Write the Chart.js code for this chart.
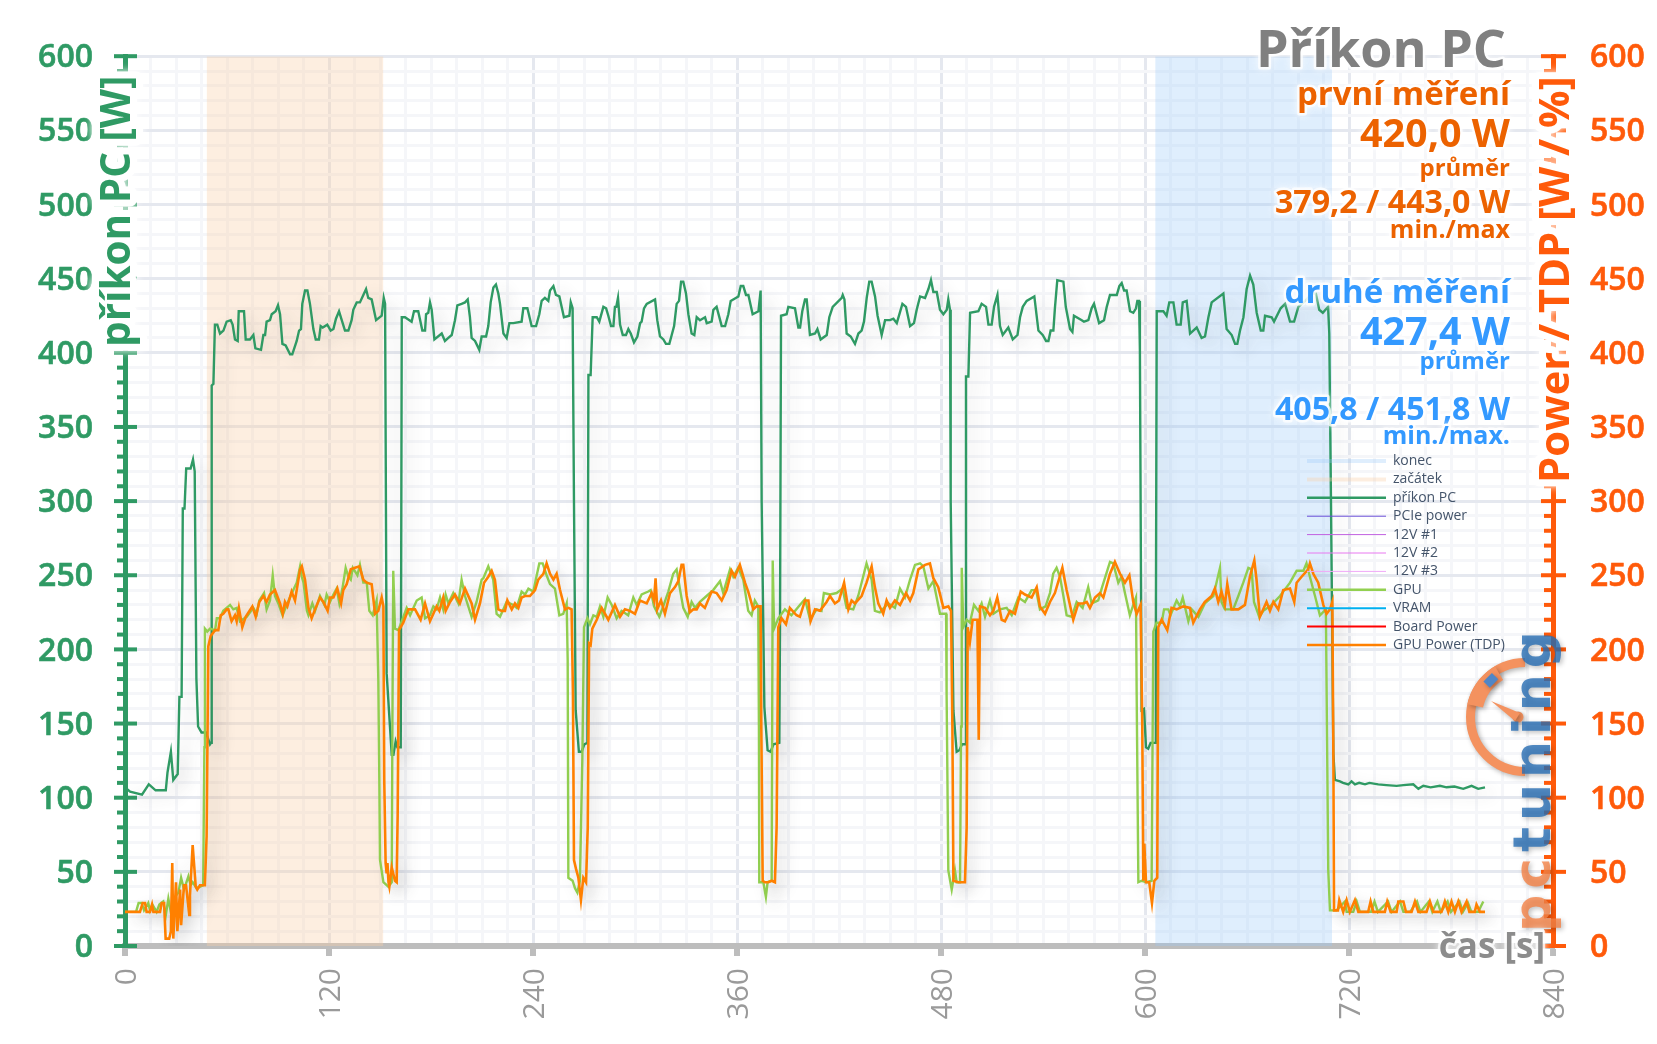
<!DOCTYPE html>
<html>
<head>
<meta charset="utf-8">
<title>Příkon PC</title>
<script src="https://cdn.jsdelivr.net/npm/chart.js@4"></script>
<style>
  html, body { margin: 0; padding: 0; background: #fff; }
  canvas { display: block; }
</style>
</head>
<body>
<canvas id="chart" width="1657" height="1044"></canvas>
<script>
// [time s, watts]
const pcPower = [
  [0,107],[3,104],[10,102],[14,109],[18,105],[24,105],[25,117],[27,131],[28.4,112],[31,116],[32,168],[33.3,168],[34,295],[35,295],[36,322],[38.6,322],[40,328],[41,320],[42,180],[43,148],[45,144],[47.6,144],[50,136],[50.6,137],[51,378],[52,379],
  [52.9,419],[54.3,419],[55.9,413],[57.9,415],[59.8,421],[62.2,422],[63.3,419],[64.7,409],[66.3,408],[66.9,428],[70,428],[71,409],[73.5,409],[75.5,412],[76.7,403],[80,402],[81.4,412],[82.4,412],[83.3,421],[85.3,422],[86.3,426],[88.6,428],[90,432],[91.2,426],[92.6,406],[94.5,405],[97.1,399],[98.4,399],[101,408],[102.4,415],[103.5,416],[104.3,433],[105.9,442],[107.3,442],[108.8,433],[110.8,416],[112.2,409],[114.1,409],[115.1,418],[116.3,417],[119,419],[121,415],[122.6,416],[124.1,423],[125.9,428],[127.5,422],[129.4,415],[131.4,415],[133.3,422],[134.3,429],[136.3,434],[138.2,434],[140.2,439],[141.8,443],[143.1,437],[145.1,436],[147.7,422],[151,425],[152.2,437],[153,433],[153.9,184],[156.9,129],[157.9,129],[159.2,138],[160.2,134],[162.2,134],
  [162.8,424],[164.7,424],[168.6,421],[170,428],[172.5,428],[174.9,415],[176.5,415],[177.1,426],[178.4,427],[179.4,434],[180.4,429],[182,409],[186.3,413],[188.2,408],[190.2,410],[192.2,412],[194.1,422],[195.5,432],[198,433],[200,434],[201.6,436],[202.9,424],[203.9,410],[205.9,408],[208.4,402],[209.8,411],[212.4,411],[213.7,418],[215.1,434],[216.7,444],[218.2,446],[219.6,440],[220.6,433],[222.6,413],[224.5,410],[226.1,420],[228.4,420],[233.3,421],[234.3,430],[236.7,430],[239.2,418],[241.8,418],[243.7,426],[245.1,435],[247,437],[249,435],[250,442],[252,445],[253.5,439],[255.5,438],[258.2,424],[261.4,425],[262.2,434],[263.3,430],[264.1,300],[265.1,159],[267,131],[268.6,131],[270.2,136],[272,137],
  [272.6,385],[273.9,385],[275.1,424],[277.5,424],[279,421],[281.4,431],[283,430],[284.3,425],[285.9,418],[287.3,418],[288.2,431],[289,431],[290,437],[291.2,419],[292.8,412],[294.7,412],[296.1,416],[297.5,413],[299.4,407],[301.4,411],[303,420],[303.9,421],[305.3,430],[306.9,433],[311.8,436],[313.1,422],[314.7,411],[316.7,409],[318.2,406],[320.2,406],[321.6,412],[323,418],[324.5,433],[325.9,435],[327.1,448],[328.4,448],[330,440],[331.4,426],[333.3,413],[334.9,412],[336.3,424],[338.2,422],[341.2,424],[342.2,420],[345.1,421],[346.1,429],[348,431],[351,418],[353,418],[354.9,426],[356.3,435],[360.8,438],[362.2,445],[363.7,445],[365.3,439],[366.7,439],[369.2,426],[372.6,428],[373.9,442],[374.5,300],[376.1,161],[378,132],[379.8,131],[381.4,136],[384.9,137],[385.3,215],
  [385.9,425],[389.2,426],[390.2,431],[394.1,430],[396.1,417],[397.1,417],[398.4,428],[400,436],[401,436],[402.9,412],[405.9,413],[407.3,416],[409.2,409],[412.8,412],[414.3,424],[416.3,431],[421.6,437],[422.2,439],[423.2,436],[424.5,413],[426.9,411],[429.4,406],[431.4,413],[433.3,415],[434.7,421],[436.3,437],[437.8,448],[439.2,448],[441.2,438],[442.7,425],[445.1,412],[447.1,422],[450,422],[452,423],[454,420],[457.3,433],[459.4,431],[461.8,418],[464.1,420],[465.7,429],[467.7,438],[470.6,437],[472.6,443],[474.1,449],[475.5,441],[477.5,441],[479.4,429],[481.4,426],[483.4,429],[484.3,436],[485.3,429],[485.7,300],[487.3,159],[489.2,131],[490.8,132],[492.4,136],[494.5,136],
  [494.7,384],[496.1,384],[497.1,427],[502,428],[503.9,433],[506.5,431],[507.9,419],[509.8,419],[511.2,431],[513.2,439],[514.7,418],[516.3,412],[519.6,417],[522.2,409],[525,412],[526.5,424],[528.1,431],[530.4,435],[534.9,438],[537.3,415],[539.8,412],[541.8,408],[543.2,408],[544.5,415],[546.1,415],[547,430],[548.4,449],[552,448],[553.4,431],[555.9,416],[557.3,414],[558.2,425],[562.8,422],[564.1,421],[566.7,422],[568.6,430],[570,433],[573,420],[575.9,422],[577.5,431],[579.4,439],[583.4,439],[584.9,445],[586.3,447],[587.7,442],[589.2,442],[591.2,428],[593.1,427],[594.7,430],[595.5,435],[596.5,435],[597,402],[598,159],[599.4,160],[600.6,134],[601.9,133],[603.3,137],[605.9,137],[606.4,215],
  [606.9,428],[610.8,428],[612.7,425],[614.3,434],[616.7,434],[618.6,419],[621,419],[622.2,434],[624.5,435],[626.5,413],[630.4,417],[633.3,410],[635.3,411],[637.3,424],[639.2,434],[646.1,440],[648,416],[651,412],[653,406],[654.3,406],[655.9,415],[657.9,424],[659.8,443],[661.8,452],[663.7,446],[665.7,427],[668.1,415],[669.6,415],[670.6,425],[674.5,424],[675.9,421],[679.8,430],[682.4,433],[685.3,421],[687.7,421],[690.2,431],[694.2,435],[698.4,440],[700.5,440],[702.5,429],[704.6,427],[707.7,431],[708.4,413],[709.4,300],[710.8,130],[711.7,112],
  [714.7,111],[716.5,110],[719.6,109],[721.5,111],[723.5,109],[726,110],[729.4,109],[732,110],[737.2,109],[742,108.5],[748,108],[752,108.5],[757.8,109],[760.8,106],[763.7,108],[768,107],[773.5,108],[777.4,107],[782,107.5],[787.2,106],[792.1,108],[796,106],[800,107]
];

const gpuPower = [
  [0,23],[6.5,23],[8,29],[9.8,29],[11.2,24],[13.7,29],[14.7,24],[16.1,28],[18.6,23],[20.2,28],[22.5,30],[23.9,20],[25.5,32],[27.4,20],[29.4,33],[31.4,36],[33,46],[34.7,38],[37.3,47],[38.6,41],[39.8,43],[42.2,39],[46,41],[46.7,134],[47,214],[48.4,212],[50,214],[53,213],[54,221],[55.9,221],[57.8,226],[61.8,230],[63.7,227],[65.7,228],[67.6,219],[71.6,222],[75.5,228],[77.5,224],[79,233],[81.8,238],[83.3,227],[85.3,233],[86.9,250],[88.2,236],[90.2,231],[92.7,223],[95.5,231],[99,240],[101,245],[103,256],[104,249],[105,245],[107,226],[107.9,223],[110.2,231],[111.8,226],[114.7,236],[117.3,230],[118.6,237],[120.6,232],[122.6,237],[124.5,241],[126.1,231],[127.9,241],[129.8,255],[131.4,249],[132.8,247],[134,255],[136.7,250],[138.2,257],[140.2,245],[142.2,245],[143.7,226],[145.7,223],[148,233],[149,180],[149.6,112],[150,58],[152,43],[154.9,40],[156.9,43],[157.3,150],[157.8,253],[158.8,214],[160.8,213],[162.8,219],[165.7,228],[167.7,223],[171.6,233],[174.5,235],[176.5,221],[179.4,223],[181.4,229],[183.3,227],[185.3,235],[187.2,227],[188.6,237],[190.2,231],[193.1,238],[196.1,231],[198,247],[200,236],[203.9,222],[206.8,232],[209.8,247],[210.8,248],[213.7,256],[216.6,247],[218.6,224],[220.6,222],[224.5,232],[228.4,230],[230.4,228],[233.3,239],[235.3,237],[237.3,241],[240.2,239],[242.2,250],[243.7,258],[245.7,258],[248,250],[250,244],[252.9,241],[255.5,223],[257.8,224],[259.8,231],[260.4,193],[260.8,46],[263.3,44],[264.7,39],[266.1,36],[267.6,44],[269,125],[270,215],[272,221],[273.5,217],[275.5,223],[277.5,222],[279.4,229],[281.4,222],[283.9,235],[286.3,230],[289.2,221],[292.1,226],[296,223],[299,235],[301,230],[303.9,237],[307.8,239],[309.2,240],[311.2,229],[314.3,222],[316.6,229],[319.6,239],[322.5,251],[324.5,254],[326.4,241],[328.4,228],[331,222],[333.3,232],[335.3,228],[338.2,232],[342.1,236],[346,240],[350,246],[351.9,238],[355.9,254],[357.8,249],[360.7,255],[363.7,247],[366.6,226],[368.6,223],[370.5,233],[372.5,229],[372.9,148],[373.1,43],[375.5,43],[377,33],[378,43],[380.4,44],[381,260],[381.8,214],[384.3,221],[388.2,227],[392,223],[397,230],[400,234],[403,220],[406.8,227],[409.7,226],[411.1,238],[414.7,237],[418.6,238],[422.1,241],[424.5,228],[428.4,227],[431.3,236],[434.2,249],[436.2,258],[439.2,247],[441.1,226],[444,225],[449,231],[452.9,228],[455.9,241],[458.8,235],[461.8,247],[464.7,257],[467.7,258],[469.6,256],[472.6,241],[475.5,246],[479.4,224],[483,224],[483.3,170],[484.3,51],[486.3,38],[488.2,51],[489.2,43],[491.2,43],[491.8,148],[492.2,255],[493.1,215],[495.1,220],[497,218],[499.4,230],[502,226],[503.9,231],[505.9,222],[508.8,233],[510.8,224],[514.7,227],[518.6,228],[521.6,223],[525.5,235],[529.4,232],[533.3,240],[535.9,240],[538.2,227],[541.5,229],[544.1,238],[546,251],[548,255],[550,249],[552,236],[553.9,223],[556.9,222],[559.8,232],[563.3,228],[566.6,242],[568.6,231],[572.5,233],[574.5,241],[579.4,259],[581.3,258],[584.3,245],[586.2,249],[588.2,238],[591.1,223],[593.1,230],[594.7,235],[595.1,170],[596.1,43],[598,44],[601,43],[603.9,44],[604.9,212],[606.8,218],[609.8,218],[611.2,227],[613.7,227],[615,223],[618.6,233],[620.6,229],[622.2,235],[625.5,219],[627.5,227],[631.4,222],[635.2,231],[640.2,236],[644.1,255],[645,232],[647,227],[651.9,227],[654.9,236],[657.8,245],[660.8,255],[662.7,254],[664.1,232],[667.2,222],[669.6,226],[674.5,230],[679.4,236],[685.3,245],[689.2,253],[693.2,253],[695,258],[697,249],[700,236],[702.9,223],[706.4,227],[707.8,51],[708.8,24],[712.7,24],[717.6,30],[718.6,23],[722.5,23],[724.5,30],[726.4,23],[733,23],[735,30],[737,23],[743,30],[745,23],[750,30],[752,23],[756,23],[760,30],[762,23],[767,30],[769,23],[772,30],[774,23],[778,30],[780,23],[785,30],[787,23],[790,29],[792,23],[796,23],[799,30]
];

const tdpPower = [
  [0,23],[8.8,23],[10.4,29],[11.8,29],[12.7,23],[14.7,23],[15.9,28],[16.7,23],[20.6,23],[21.6,29],[23,29],[23.9,5],[26,5],[27,10],[27.8,56],[28.4,5],[30,43],[30.8,10],[32.4,38],[33,14],[34.7,41],[35.9,41],[37.8,21],[38.2,34],[39.8,68],[41.6,40],[42.5,38],[44.1,41],[47,41],[48,74],[49,202],[50.4,209],[53,213],[54.9,213],[56.3,223],[57.8,224],[59.8,227],[60.8,227],[62.7,219],[64.7,223],[65.7,219],[67,228],[69,215],[71,222],[74.9,229],[76.9,222],[79,232],[81.4,236],[83.3,232],[85.3,237],[88.2,240],[91.2,231],[92.8,224],[94.1,232],[95.5,229],[98,239],[100,233],[103,254],[104,256],[105.9,247],[107.9,228],[109.8,221],[111.8,227],[114.7,235],[116.7,232],[119.2,226],[120.6,235],[122.6,235],[124.9,241],[127.1,231],[128.4,240],[130.4,244],[132.8,254],[135.3,255],[137.9,256],[140.2,247],[142.2,245],[145.1,244],[147.1,224],[149,226],[151,235],[152,229],[152.5,112],[153.3,56],[153.9,49],[154.4,56],[155,43],[155.5,40],[156.9,53],[158.8,44],[159.8,43],[160.4,89],[161.2,213],[163.7,218],[166.7,227],[170.6,227],[173.9,220],[176.5,231],[179.4,219],[183.3,229],[184.9,226],[187.2,235],[188.6,226],[191.2,232],[194.1,237],[197,231],[200,241],[203.9,231],[205.9,220],[208.8,231],[211.2,245],[213.7,249],[215.7,253],[217.6,247],[219.6,227],[221.6,226],[223.5,226],[224.9,233],[227.5,227],[229.4,231],[231.4,228],[233.3,235],[235.3,236],[238.2,236],[241.2,240],[243.1,247],[246.1,251],[248,258],[250,251],[252,247],[253.9,251],[255.9,240],[258.8,227],[260.8,228],[262.7,227],[263.5,170],[264.1,58],[265.3,52],[266.7,46],[268.2,31],[269.6,46],[271.2,43],[272.2,80],[273,204],[273.9,203],[274.9,214],[277.5,220],[280.4,228],[284.3,220],[288.2,230],[291.2,222],[294.1,227],[297,226],[300,224],[302.9,233],[306.9,231],[309.8,238],[311.2,233],[312.1,248],[313.1,227],[315.3,233],[317.6,224],[320.6,238],[323.5,242],[325.5,246],[327.4,257],[328.4,257],[330.4,236],[332.3,225],[334.3,227],[336.3,227],[338.2,231],[341.1,228],[345.1,239],[348,238],[351,233],[353.9,240],[356.8,253],[358.8,249],[361.7,257],[364.7,245],[366.6,239],[369.6,227],[371.5,229],[373.9,229],[374.3,148],[375.1,44],[376.4,43],[378.4,43],[380.4,44],[382.3,43],[383.3,80],[384.3,215],[386.2,221],[388.8,217],[391.1,228],[395,223],[397,222],[400,233],[402,233],[403.3,219],[405.9,227],[408.8,226],[412.7,232],[414.7,236],[417.6,231],[420,233],[423,245],[425.5,227],[427.4,233],[429.4,231],[433.3,236],[436.2,245],[439.2,256],[441.1,242],[443.1,231],[446,224],[448,233],[450,228],[452.9,233],[455.9,230],[459.4,238],[461.8,233],[463.7,238],[466.7,254],[470.6,257],[473.5,258],[475.5,248],[478.4,242],[481.4,228],[484.3,229],[485.9,226],[486.7,148],[487.3,44],[490.2,43],[494.1,43],[495.1,80],[495.7,215],[497,205],[498.6,220],[501.4,220],[502.2,139],[503,229],[505.9,228],[508.8,223],[510.8,226],[513.1,235],[515.7,220],[517.6,219],[520.6,226],[523.5,224],[526.9,239],[529.4,237],[533.3,235],[536.3,242],[538.2,229],[541.2,224],[544.1,232],[547,238],[551.4,255],[553.9,240],[557.8,220],[560.8,231],[563.7,231],[565.7,232],[567.6,228],[570.6,235],[573.5,238],[575.5,235],[579.4,251],[582.3,259],[585.3,251],[588.2,245],[590.8,250],[593.1,232],[595.1,224],[597.4,230],[598.4,148],[599,44],[599.6,69],[600.6,43],[602.5,43],[604.1,29],[605.5,44],[607.2,46],[607.8,215],[609.8,220],[613.1,213],[615.6,228],[618.6,227],[622.5,229],[626.4,228],[628.4,218],[632.3,227],[635.2,232],[639.2,236],[641.1,241],[643.1,232],[645,239],[647,230],[648.4,244],[650.9,227],[654.9,227],[658.8,230],[661.7,249],[664.3,260],[665.6,247],[667.6,222],[671.5,232],[673.5,226],[675.5,232],[678.4,227],[681.3,240],[685.3,241],[687.8,232],[689.2,245],[692.1,249],[696,254],[697,258],[699,251],[701.9,245],[704.9,230],[706.8,224],[708.8,227],[710.2,232],[710.8,130],[711.2,24],[713.5,24],[714.3,31],[716.6,23],[718.6,31],[720.5,23],[723.5,31],[725.5,23],[731.3,23],[732.7,30],[734.3,23],[741.1,23],[742.5,30],[744.5,23],[748,23],[749,30],[752,30],[753.5,23],[756.8,23],[758.8,30],[760.8,23],[765.6,23],[767.6,30],[769.6,23],[774.4,23],[776.4,30],[778.4,23],[780.3,30],[782.3,23],[784.3,30],[786.2,23],[789.2,30],[790.8,23],[794,23],[795,28],[797,23],[800,23]
];

// shaded measurement windows
const startWindow = [[48,600],[152,600]];
const endWindow = [[606,600],[710,600]];

const toPoints = rows => rows.map(r => ({ x: r[0], y: r[1] }));

const GREEN = '#2f9a64';
const ORANGE = '#ff5a0a';
const GRAY = '#808080';
const FONT = '"Open Sans", sans-serif';

function line(label, rows, color, width, order, axis) {
  return {
    label: label,
    data: toPoints(rows),
    borderColor: color,
    backgroundColor: color,
    borderWidth: width,
    pointRadius: 0,
    tension: 0,
    fill: false,
    order: order,
    yAxisID: axis
  };
}
function band(label, rows, color, order) {
  const d = line(label, rows, color, 0, order, 'y');
  d.fill = 'origin';
  d.isBand = true;
  return d;
}

// halo text, used for everything printed over the plot
function glowText(ctx, text, x, y, font, color) {
  ctx.save();
  ctx.font = font;
  ctx.textAlign = 'right';
  ctx.textBaseline = 'alphabetic';
  ctx.shadowColor = '#fff';
  ctx.shadowBlur = 7;
  ctx.lineJoin = 'round';
  ctx.strokeStyle = 'rgba(255,255,255,0.75)';
  ctx.lineWidth = 5;
  ctx.strokeText(text, x, y);
  ctx.shadowBlur = 0;
  ctx.fillStyle = color;
  ctx.fillText(text, x, y);
  ctx.restore();
}

function axisTitle(ctx, text, x, y, size, color) {
  ctx.save();
  ctx.translate(x, y);
  ctx.rotate(-Math.PI / 2);
  ctx.font = '700 ' + size + 'px ' + FONT;
  ctx.textAlign = 'left';
  ctx.lineJoin = 'round';
  ctx.shadowColor = '#fff';
  ctx.shadowBlur = 8;
  ctx.strokeStyle = '#fff';
  ctx.lineWidth = 14;
  ctx.strokeText(text, 0, 0);
  ctx.shadowBlur = 0;
  ctx.fillStyle = color;
  ctx.fillText(text, 0, 0);
  ctx.restore();
}

function drawAxisTicks(chart) {
  const ctx = chart.ctx;
  const yl = chart.scales.y, yr = chart.scales.y2, xs = chart.scales.x;
  ctx.save();
  yl.ticks.forEach(t => {
    const p = yl.getPixelForValue(t.value);
    const major = t.value % 50 === 0;
    ctx.fillStyle = GREEN;
    if (major) ctx.fillRect(114, p - 2, 23, 4);
    else ctx.fillRect(117, p - 2, 6, 4);
  });
  yr.ticks.forEach(t => {
    const p = yr.getPixelForValue(t.value);
    const major = t.value % 50 === 0;
    ctx.fillStyle = ORANGE;
    if (major) ctx.fillRect(1541, p - 2, 25, 4);
    else ctx.fillRect(1544, p - 2, 8, 4);
  });
  ctx.fillStyle = '#bdbdbd';
  xs.ticks.forEach(t => {
    if (t.value % 120 === 0) ctx.fillRect(xs.getPixelForValue(t.value) - 3, 949, 6, 7);
  });
  ctx.restore();
}

function drawLegend(chart) {
  const ctx = chart.ctx;
  ctx.save();
  ctx.font = '14px ' + FONT;
  ctx.textBaseline = 'middle';
  ctx.textAlign = 'left';
  chart.data.datasets.forEach((d, i) => {
    const y = 461 + i * 18.4;
    ctx.strokeStyle = d.borderColor;
    ctx.lineWidth = d.legendWidth || d.borderWidth;
    ctx.beginPath();
    ctx.moveTo(1307, y);
    ctx.lineTo(1386, y);
    ctx.stroke();
    ctx.fillStyle = '#44546a';
    ctx.fillText(d.label, 1393, y);
  });
  ctx.restore();
}

function drawLogo(ctx) {
  ctx.save();
  // gauge
  ctx.shadowColor = 'rgba(0,0,0,0.3)';
  ctx.shadowBlur = 5;
  ctx.shadowOffsetX = 2;
  ctx.shadowOffsetY = 2;
  ctx.strokeStyle = '#f4925f';
  ctx.lineWidth = 9;
  ctx.beginPath();
  ctx.arc(1525, 717, 54.5, Math.PI / 2, Math.PI * 1.5);
  ctx.stroke();
  ctx.lineWidth = 16;
  ctx.beginPath();
  ctx.arc(1525, 717, 51, Math.PI * 1.07, Math.PI * 1.33);
  ctx.stroke();
  ctx.fillStyle = '#f4925f';
  ctx.beginPath();
  ctx.arc(1518, 717, 5.5, 0, Math.PI * 2);
  ctx.fill();
  ctx.beginPath();
  ctx.moveTo(1491, 701);
  ctx.lineTo(1520, 713);
  ctx.lineTo(1515, 721);
  ctx.closePath();
  ctx.fill();
  ctx.save();
  ctx.translate(1490.5, 680);
  ctx.rotate(-Math.PI / 4);
  ctx.fillStyle = '#4f86c6';
  ctx.fillRect(-6, -4, 12, 9);
  ctx.restore();
  // lettering, reads bottom to top
  ctx.translate(1550, 932);
  ctx.rotate(-Math.PI / 2);
  ctx.font = 'bold 52px "DejaVu Sans", sans-serif';
  ctx.letterSpacing = '6px';
  ctx.textAlign = 'left';
  ctx.fillStyle = 'rgba(244,130,70,0.8)';
  ctx.fillText('pc', 0, 0);
  const w = ctx.measureText('pc').width;
  ctx.fillStyle = 'rgba(40,110,180,0.8)';
  ctx.fillText('tuning', w, 0);
  ctx.restore();
}

const decorPlugin = {
  id: 'decor',
  beforeDatasetsDraw(chart) {
    drawAxisTicks(chart);
  },
  beforeDatasetDraw(chart, args) {
    const ctx = chart.ctx;
    ctx.save();
    if (!chart.data.datasets[args.index].isBand) {
      ctx.shadowColor = 'rgba(60,60,60,0.2)';
      ctx.shadowBlur = 16;
      ctx.shadowOffsetX = 8;
      ctx.shadowOffsetY = 6;
    }
  },
  afterDatasetDraw(chart) {
    chart.ctx.restore();
  },
  afterDatasetsDraw(chart) {
    const ctx = chart.ctx;
    drawLogo(ctx);
    drawLegend(chart);
    axisTitle(ctx, 'příkon PC [W]', 130, 347, 40.5, GREEN);
    axisTitle(ctx, 'Power / TDP [W / %]', 1569, 483, 41.7, ORANGE);
    const R = 1510;
    const o = '#ec6200', b = '#3399ff';
    glowText(ctx, 'Příkon PC', 1506, 67, '700 52px ' + FONT, GRAY);
    glowText(ctx, 'první měření', R, 105, '700 33px ' + FONT, o);
    glowText(ctx, '420,0 W', R, 147, '700 39.5px ' + FONT, o);
    glowText(ctx, 'průměr', R, 176, '700 24px ' + FONT, o);
    glowText(ctx, '379,2 / 443,0 W', R, 213, '700 32.2px ' + FONT, o);
    glowText(ctx, 'min./max', R, 238, '700 25px ' + FONT, o);
    glowText(ctx, 'druhé měření', R, 303, '700 33px ' + FONT, b);
    glowText(ctx, '427,4 W', R, 345, '700 39.5px ' + FONT, b);
    glowText(ctx, 'průměr', R, 369, '700 24px ' + FONT, b);
    glowText(ctx, '405,8 / 451,8 W', R, 420, '700 32.2px ' + FONT, b);
    glowText(ctx, 'min./max.', R, 444, '700 25px ' + FONT, b);
    glowText(ctx, 'čas [s]', 1545, 958, '700 35px ' + FONT, '#8c8c8c');
  }
};

const gridY = c => (c.tick && c.tick.value % 50 === 0) ? '#e5e8ef' : '#f5f6f9';
const gridX = c => (c.tick && c.tick.value % 120 === 0) ? '#e5e8ef' : '#f5f6f9';

const datasets = [
  band('konec', endWindow, 'rgba(150,200,250,0.3)', 11),
  band('začátek', startWindow, 'rgba(248,205,165,0.35)', 10),
  line('příkon PC', pcPower, GREEN, 2.4, 9, 'y'),
  line('PCIe power', [], '#6a4fd8', 1, 8, 'y2'),
  line('12V #1', [], '#c060e0', 1, 7, 'y2'),
  line('12V #2', [], '#e878f0', 1, 6, 'y2'),
  line('12V #3', [], '#f0a8f8', 1, 5, 'y2'),
  line('GPU', gpuPower, '#92d050', 2.4, 4, 'y2'),
  line('VRAM', [], '#00b0f0', 2, 3, 'y2'),
  line('Board Power', [], '#ff0000', 2, 2, 'y2'),
  line('GPU Power (TDP)', tdpPower, '#ff8000', 2.6, 1, 'y2')
];
datasets[0].legendWidth = 4;
datasets[1].legendWidth = 4;

new Chart(document.getElementById('chart'), {
  type: 'line',
  data: { datasets: datasets },
  plugins: [decorPlugin],
  options: {
    responsive: false,
    devicePixelRatio: 1,
    animation: false,
    layout: { padding: 0 },
    plugins: { legend: { display: false }, tooltip: { enabled: false }, title: { display: false } },
    scales: {
      x: {
        type: 'linear',
        min: 0,
        max: 840,
        afterFit(s) { s.height = 98; },
        border: { color: '#bdbdbd', width: 6 },
        grid: { color: gridX, lineWidth: 3, drawTicks: false },
        ticks: {
          stepSize: 15,
          autoSkip: false,
          minRotation: 90,
          maxRotation: 90,
          padding: 22,
          labelOffset: 2,
          color: '#9a9a9a',
          font: { family: '"Open Sans"', size: 30, weight: '400' },
          callback: v => (v % 120 === 0 ? String(v) : '')
        }
      },
      y: {
        position: 'left',
        min: 0,
        max: 600,
        afterFit(s) { s.width = 125; },
        border: { color: GREEN, width: 5 },
        grid: { color: gridY, lineWidth: 3, drawTicks: false },
        ticks: {
          stepSize: 10,
          autoSkip: false,
          padding: 32,
          labelOffset: 2,
          color: GREEN,
          textStrokeColor: GREEN,
          textStrokeWidth: 0.6,
          font: { family: '"Open Sans"', size: 32, weight: '600' },
          callback: v => (v % 50 === 0 ? String(v) : '')
        }
      },
      y2: {
        position: 'right',
        min: 0,
        max: 600,
        afterFit(s) { s.width = 104; },
        border: { color: ORANGE, width: 5 },
        grid: { drawOnChartArea: false, drawTicks: false },
        ticks: {
          stepSize: 10,
          autoSkip: false,
          padding: 37,
          labelOffset: 2,
          color: ORANGE,
          textStrokeColor: ORANGE,
          textStrokeWidth: 0.6,
          font: { family: '"Open Sans"', size: 32, weight: '600' },
          callback: v => (v % 50 === 0 ? String(v) : '')
        }
      }
    }
  }
});
</script>
</body>
</html>
